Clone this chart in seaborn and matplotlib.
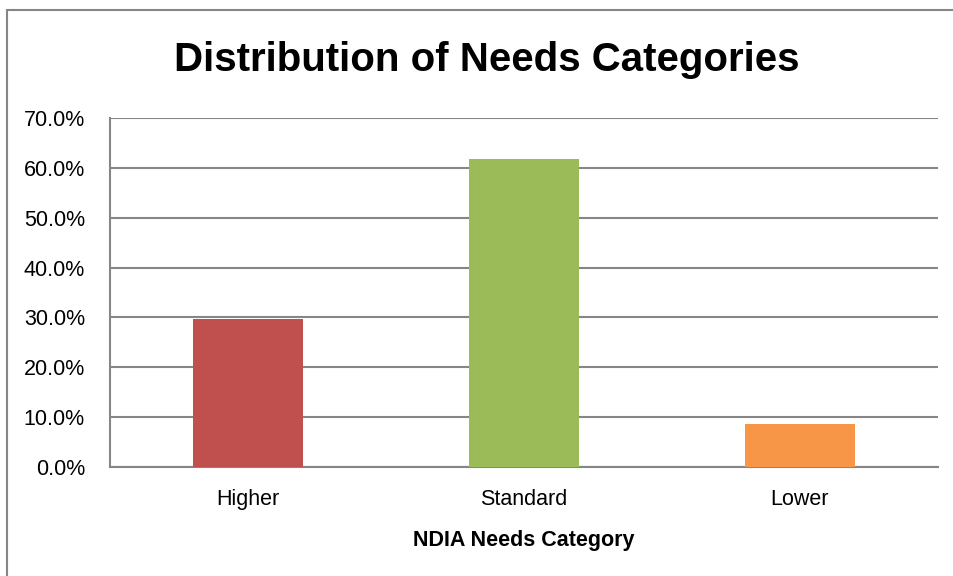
import matplotlib
matplotlib.use("Agg")
import matplotlib.pyplot as plt
import seaborn as sns
import pandas as pd
from matplotlib.lines import Line2D

categories = ["Higher", "Standard", "Lower"]
values = [29.7, 61.8, 8.6]
colors = ["#C0504D", "#9BBB59", "#F79646"]
yticks = [0, 10, 20, 30, 40, 50, 60, 70]
ytick_labels = ["0.0%", "10.0%", "20.0%", "30.0%", "40.0%", "50.0%", "60.0%", "70.0%"]

sns.set_theme(style="white")
plt.rcParams["font.family"] = ["Liberation Sans", "DejaVu Sans"]

df = pd.DataFrame({"cat": categories, "val": values})
fig = plt.figure(figsize=(9.54, 5.76), dpi=100)
ax = fig.add_axes([110/954, 1-467/576, (938-110)/954, (467-118)/576])
sns.barplot(data=df, x="cat", y="val", hue="cat", palette=colors, width=0.4,
            legend=False, ax=ax, saturation=1, zorder=3, linewidth=0)
ax.set_ylim(0, 70)
ax.set_xlim(-0.5, 2.5)
ax.set_yticks(yticks)
ax.set_yticklabels(ytick_labels, fontsize=15.5)
ax.tick_params(axis="y", length=0, pad=18)
ax.tick_params(axis="x", length=0, pad=16, labelsize=15.5)
for t in ax.get_xticklabels() + ax.get_yticklabels():
    t.set_color("black")
ax.grid(axis="y", color="#868686", linewidth=1.5, zorder=0)
ax.set_axisbelow(True)
for s in ["top", "right"]:
    ax.spines[s].set_visible(False)
for s in ["left", "bottom"]:
    ax.spines[s].set_color("#868686")
    ax.spines[s].set_linewidth(1.5)
ax.set_xlabel("NDIA Needs Category", fontsize=15.5, fontweight="bold", labelpad=14, color="black")
ax.set_ylabel("")
fig.text(487/954, 1-60/576, "Distribution of Needs Categories", ha="center", va="center",
         fontsize=29, fontweight="bold", color="black")
top_y = 1 - 10/576
left_x = 7/954
fig.lines.append(Line2D([left_x, 1.0], [top_y, top_y], transform=fig.transFigure,
                        color="#868686", linewidth=1.5))
fig.lines.append(Line2D([left_x, left_x], [0.0, top_y], transform=fig.transFigure,
                        color="#868686", linewidth=1.5))
fig.savefig("out.png", dpi=100)
